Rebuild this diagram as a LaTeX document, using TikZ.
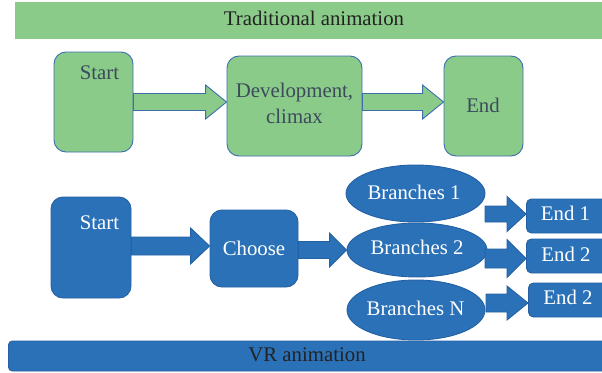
\documentclass[tikz,border=0pt]{standalone}
\usepackage{fontspec}
\setmainfont{Liberation Serif}
\usetikzlibrary{calc,shapes.geometric}
\definecolor{gfill}{HTML}{8BCB89}
\definecolor{gborder}{HTML}{3D6EAE}
\definecolor{bfill}{HTML}{2A71B8}
\definecolor{bborder}{HTML}{2461A3}
\definecolor{gtext}{HTML}{3B4A5C}
\definecolor{dtext}{HTML}{222222}
\tikzset{
  txt/.style={font=\fontsize{20.8}{23}\selectfont, inner sep=0pt},
  gbox/.style={draw=gborder, fill=gfill, line width=0.9pt, rounded corners=12pt, inner sep=0pt},
  bbox/.style={draw=bborder, fill=bfill, line width=0.9pt, rounded corners=12pt, inner sep=0pt},
  ebox/.style={draw=bborder, fill=bfill, line width=0.9pt, rounded corners=5pt, inner sep=0pt},
  bell/.style={ellipse, draw=bborder, fill=bfill, line width=0.9pt, inner sep=0pt},
  garrow/.style={draw=gborder, fill=gfill, line width=0.9pt, line join=miter},
  barrow/.style={draw=bborder, fill=bfill, line width=0.9pt, line join=miter},
}
% #1 style, #2 start coordinate name, #3 tip coordinate name, #4 half body, #5 half head, #6 head length
\newcommand\fatarrow[6]{%
  \draw[#1] ($(#2)+(0,-#4)$) -- ($(#3)+(-#6,-#4)$) -- ($(#3)+(-#6,-#5)$) -- (#3)
    -- ($(#3)+(-#6,#5)$) -- ($(#3)+(-#6,#4)$) -- ($(#2)+(0,#4)$) -- cycle;}
\begin{document}
\begin{tikzpicture}[x=1pt, y=-1pt]
\useasboundingbox (0,0) rectangle (602,372);
\clip (0,0) rectangle (602,372);
% ---------- Traditional animation ----------
\node[fill=gfill, minimum width=590, minimum height=37, inner sep=0pt] (tbar) at (310,20.5) {};
\node[txt, text=dtext] (ttitle) at (314,18) {Traditional animation};
\node[gbox, minimum width=79, minimum height=100] (s1) at (93.5,102) {};
\node[txt, text=gtext] (s1t) at (99.5,73) {Start};
\node[gbox, minimum width=135, minimum height=100] (d1) at (294.5,106) {};
\node[txt, text=gtext, align=center] (d1t) at (294.5,103) {Development,\\[3pt]climax};
\node[gbox, minimum width=79, minimum height=100] (e1) at (483.5,106) {};
\node[txt, text=gtext] (e1t) at (483,105) {End};
\coordinate (a1s) at (s1.east |- 0,102);
\coordinate (a1e) at (d1.west |- 0,102);
\fatarrow{garrow}{a1s}{a1e}{8.5}{17}{21}
\coordinate (a2s) at (d1.east |- 0,102);
\coordinate (a2e) at (e1.west |- 0,102);
\fatarrow{garrow}{a2s}{a2e}{8.5}{17}{21}
% ---------- VR animation ----------
\node[bbox, minimum width=80, minimum height=101] (s2) at (91,247.5) {};
\node[txt, text=white] (s2t) at (99.5,223) {Start};
\node[bbox, minimum width=88, minimum height=77] (c2) at (254,248.5) {};
\node[txt, text=white] (c2t) at (254,248) {Choose};
\node[bell, minimum width=139, minimum height=57] (b1) at (415.5,193.5) {};
\node[txt, text=white] (b1t) at (414,192) {Branches 1};
\node[bell, minimum width=140, minimum height=54] (b2) at (417,250) {};
\node[txt, text=white] (b2t) at (417,247) {Branches 2};
\node[bell, minimum width=138, minimum height=60] (bn) at (416,310) {};
\node[txt, text=white] (bnt) at (415.5,308) {Branches N};
\node[ebox, minimum width=90, minimum height=34, anchor=west] (f1) at (526,216) {};
\node[txt, text=white] (f1t) at (565.5,213) {End 1};
\node[ebox, minimum width=90, minimum height=34, anchor=west] (f2) at (526,256) {};
\node[txt, text=white] (f2t) at (566,254) {End 2};
\node[ebox, minimum width=90, minimum height=34, anchor=west] (f3) at (528,300) {};
\node[txt, text=white] (f3t) at (568,297) {End 2};
\coordinate (a3s) at (s2.east |- 0,246);
\coordinate (a3e) at (c2.west |- 0,246);
\fatarrow{barrow}{a3s}{a3e}{9}{18}{19}
\coordinate (a4s) at (c2.east |- 0,250);
\coordinate (a4e) at (b2.west |- 0,250);
\fatarrow{barrow}{a4s}{a4e}{8.5}{17}{17}
\coordinate (a5s) at (485,214);
\coordinate (a5e) at (f1.west |- 0,214);
\fatarrow{barrow}{a5s}{a5e}{8}{17.5}{19}
\coordinate (a6s) at (485,258.5);
\coordinate (a6e) at (f2.west |- 0,258.5);
\fatarrow{barrow}{a6s}{a6e}{9.5}{19}{19}
\coordinate (a7s) at (486,303);
\coordinate (a7e) at (f3.west |- 0,303);
\fatarrow{barrow}{a7s}{a7e}{9}{17}{21}
\node[draw=bborder, fill=bfill, line width=0.9pt, rounded corners=4pt, minimum width=610, minimum height=30, inner sep=0pt, anchor=west] (vbar) at (8,356) {};
\node[txt, text=dtext] (vtitle) at (307,355) {VR animation};
\end{tikzpicture}
\end{document}
